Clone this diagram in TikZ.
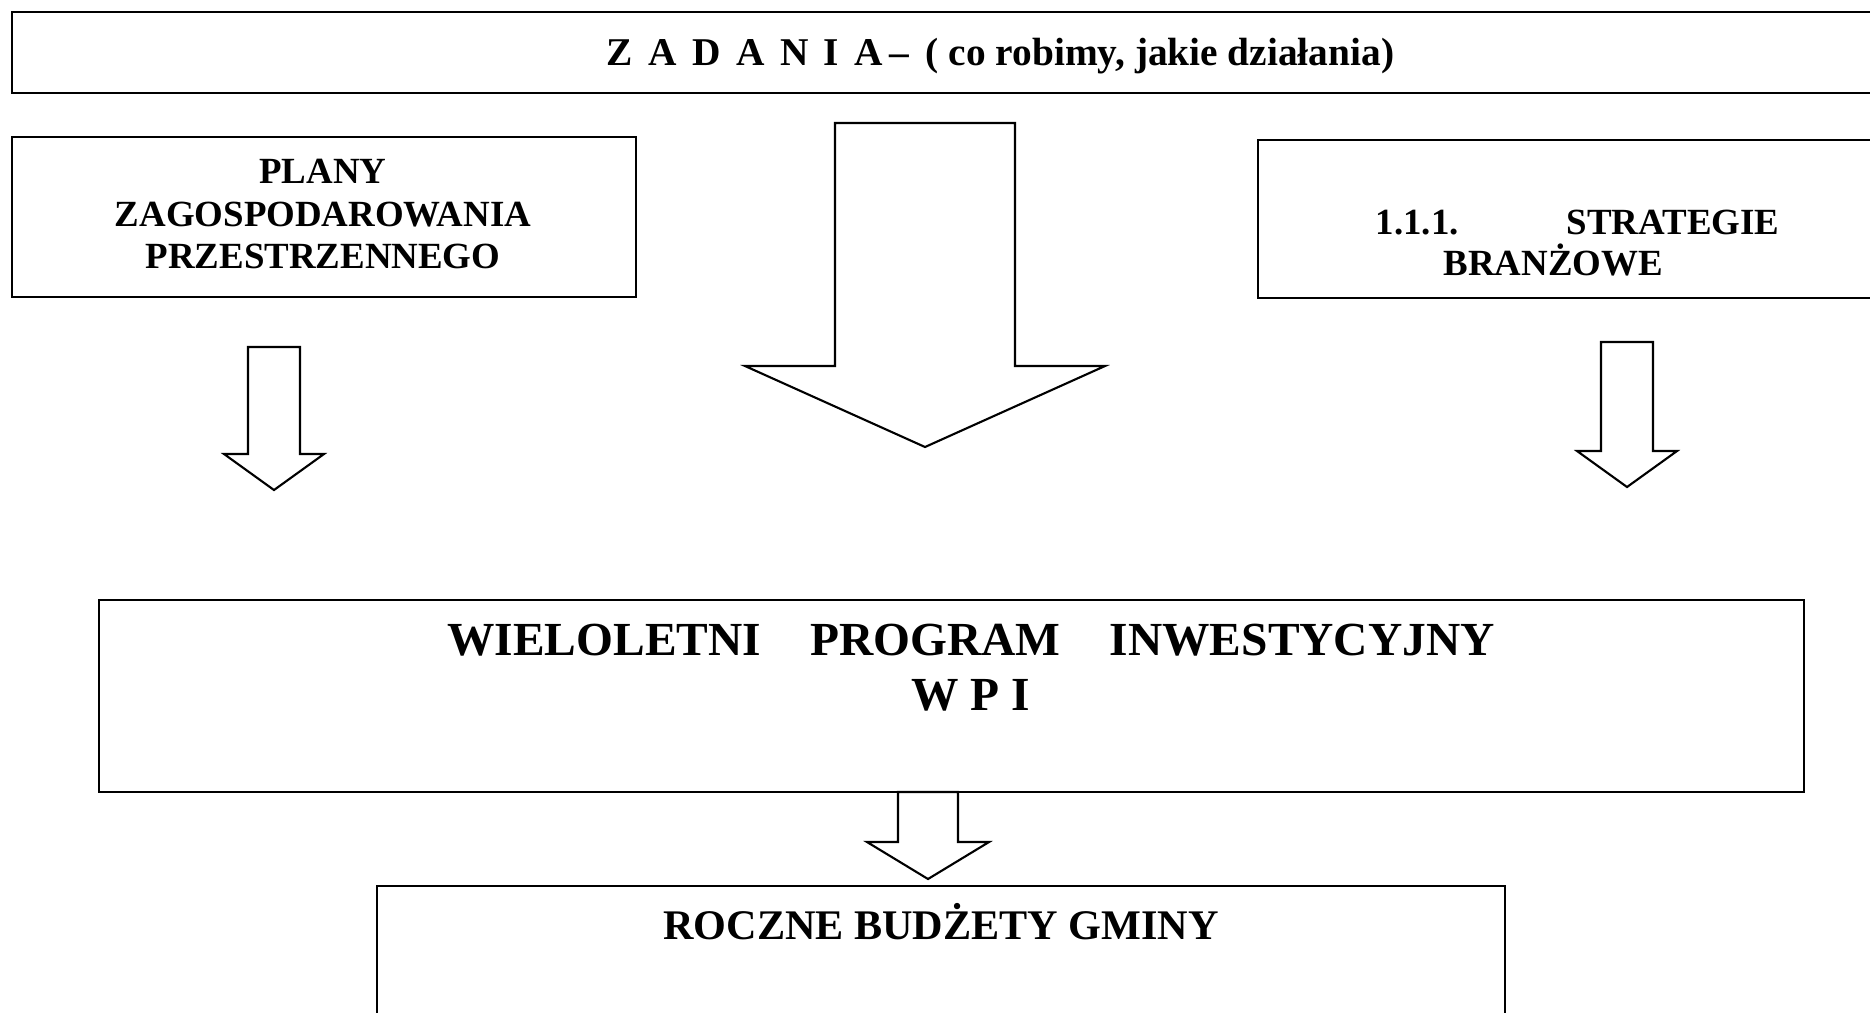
\documentclass[tikz,border=0pt]{standalone}
\usepackage{fontspec}
\usepackage{tikz}
\setmainfont{Liberation Serif}

\begin{document}
\begin{tikzpicture}[x=0.1mm, y=-0.1mm,
    box/.style={draw, rectangle, line width=0.7pt, inner sep=0pt},
    caption/.style={inner sep=0pt, font=\bfseries},
    blockarrow/.style={draw, line width=0.6pt, line join=miter, fill=white}]
  \useasboundingbox (0,0) rectangle (1870,1012);
  \clip (0,0) rectangle (1870,1012);

  % Tasks banner
  \node[box, minimum width=196.8mm, minimum height=8.1mm] (tasks) at (996,52.5) {};
  \node[caption, anchor=base west, font=\bfseries\fontsize{11.2}{13}\selectfont] (taskstext) at (606,65)
    {Z\hspace{4.4pt}A\hspace{4.4pt}D\hspace{4.4pt}A\hspace{4.4pt}N\hspace{4.4pt}I\hspace{4.4pt}A\,– \,( co robimy, jakie działania)};

  % Side boxes
  \node[box, minimum width=62.4mm, minimum height=16mm] (plans) at (324,217) {};
  \node[caption, align=center, font=\bfseries\fontsize{10.5}{12.2}\selectfont] (planstext) at (323,214)
    {PLANY\\ZAGOSPODAROWANIA\\PRZESTRZENNEGO};

  \node[box, minimum width=70.2mm, minimum height=15.8mm] (strat) at (1609,219) {};
  \node[caption, align=left, anchor=west, font=\bfseries\fontsize{10.5}{11.8}\selectfont] (strattext) at (1375,243)
    {1.1.1.\hspace{10.8mm}STRATEGIE\\\hspace*{6.8mm}BRANŻOWE};

  % Block arrows
  \foreach \cx/\ytop/\ysh/\ytip/\hs/\hh in {925/123/366/447/90/180, 274/347/454/490/26/50,
      1627/342/451/487/26/50, 928/792/842/879/30/61}
    \draw[blockarrow] (\cx-\hs,\ytop) -- (\cx+\hs,\ytop) -- (\cx+\hs,\ysh) -- (\cx+\hh,\ysh)
      -- (\cx,\ytip) -- (\cx-\hh,\ysh) -- (\cx-\hs,\ysh) -- cycle;

  % Investment programme
  \node[box, minimum width=170.5mm, minimum height=19.2mm] (wpi) at (951.5,696) {};
  \node[caption, align=center, font=\bfseries\fontsize{13.5}{15.6}\selectfont] (wpitext) at (971,668)
    {WIELOLETNI\hspace{14pt}PROGRAM\hspace{14pt}INWESTYCYJNY\\W P I};

  % Yearly budgets
  \node[box, minimum width=112.8mm, minimum height=15.4mm] (budget) at (941,963) {};
  \node[caption, font=\bfseries\fontsize{12}{14}\selectfont] (budgettext) at (941,922)
    {ROCZNE BUDŻETY GMINY};
\end{tikzpicture}
\end{document}
